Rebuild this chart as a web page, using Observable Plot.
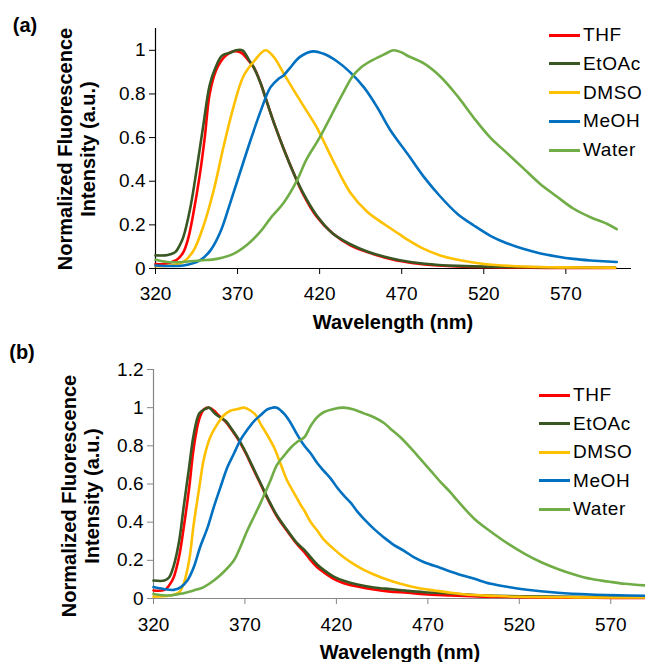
<!DOCTYPE html>
<html>
<head>
<meta charset="utf-8">
<script src="https://cdn.jsdelivr.net/npm/d3@7"></script>
<script src="https://cdn.jsdelivr.net/npm/@observablehq/plot@0.6"></script>
<style>
  body { margin: 0; background: #fff; font-family: "Liberation Sans", Arial, sans-serif; }
  #wrap { position: relative; width: 645px; height: 662px; overflow: hidden; background: #fff; }
  .panel { position: absolute; left: 0; }
  .lab { position: absolute; font-weight: bold; font-size: 20px; color: #000; white-space: nowrap; }
  .ytitle { position: absolute; font-weight: bold; font-size: 20px; line-height: 23px; text-align: center; transform: rotate(-90deg); white-space: nowrap; }
  .legitem { position: absolute; height: 24px; display: flex; align-items: center; font-size: 19px; letter-spacing: 0.6px; white-space: nowrap; }
  .legitem .sw { width: 31px; height: 3px; margin-right: 3px; }
</style>
</head>
<body>
<div id="wrap"></div>
<script>
// ---------- series names & colours ----------
const seriesNames = ["THF", "EtOAc", "DMSO", "MeOH", "Water"];
const seriesColors = ["#FF0000", "#385723", "#FFC000", "#0070C0", "#70AD47"];

// ---------- axis ticks ----------
const xTicks = [320, 370, 420, 470, 520, 570];
const yTicksA = [0, 0.2, 0.4, 0.6, 0.8, 1];
const yTicksB = [0, 0.2, 0.4, 0.6, 0.8, 1, 1.2];

// ---------- panel (a) data ----------
const nmThfA = [320,325,330,333,337,340,343,347,350,353,357,362,367,372,376,380,384,388,393,398,404,410,418,428,439,449,459,469,484,504,530,560,600];
const thfA   = [0.02,0.02,0.03,0.04,0.075,0.14,0.25,0.43,0.60,0.80,0.91,0.97,0.995,0.99,0.96,0.92,0.85,0.76,0.65,0.55,0.44,0.34,0.24,0.16,0.105,0.075,0.052,0.034,0.018,0.009,0.005,0.003,0.002];

const nmEtoA = [320,326,329,332,335,337,341,345,349,353,356.5,360.5,366,369,373,377,380,384,388,393,398,404,410,418,428,439,449,459,469,484,504,530,560,600];
const etoA   = [0.06,0.06,0.065,0.075,0.11,0.145,0.27,0.45,0.65,0.84,0.92,0.975,0.99,1.0,1.0,0.955,0.92,0.85,0.76,0.65,0.55,0.44,0.345,0.245,0.16,0.11,0.078,0.055,0.038,0.022,0.012,0.007,0.005,0.004];

const nmDmsoA = [320,330,337,343,349,355.5,361.5,367.5,373.5,380,387,392,398,404,411,418,428.5,438.5,449,459,469,473,483.5,493.5,504,520,544,570,600];
const dmsoA   = [0.01,0.015,0.03,0.08,0.19,0.36,0.56,0.74,0.88,0.95,1.0,0.97,0.895,0.82,0.735,0.65,0.49,0.35,0.26,0.205,0.155,0.135,0.09,0.06,0.04,0.021,0.009,0.005,0.004];

const nmMeohA = [320,337,347,353.5,359.5,365.5,371.5,378,384,390,395,398,402,408,416,422,430.5,438.5,447,455,463,473.5,483.5,493.5,504,514,524,534,544,554,564.5,574.5,585,601];
const meohA   = [0.014,0.014,0.037,0.083,0.167,0.30,0.44,0.59,0.72,0.83,0.87,0.885,0.92,0.97,0.995,0.985,0.95,0.90,0.83,0.74,0.635,0.526,0.42,0.33,0.25,0.197,0.15,0.116,0.09,0.07,0.055,0.044,0.037,0.03];

const nmWaterA = [320,327,337,347,357.5,367.5,376,384,390,398,406,412,420,427,434,440,445,451,459,465,470,473.5,483.5,493.5,504,514,524,534,544,554,564.5,574.5,585,595,601];
const waterA   = [0.04,0.03,0.03,0.037,0.044,0.067,0.11,0.17,0.23,0.30,0.40,0.50,0.60,0.70,0.80,0.88,0.92,0.95,0.98,1.0,0.99,0.975,0.94,0.88,0.79,0.69,0.60,0.53,0.46,0.39,0.33,0.275,0.235,0.205,0.18];

// ---------- panel (b) data ----------
const nmThfB = [320,326,328.5,331,334,336.5,339.5,342,345,347.5,350.5,353,355.5,359.5,363,366.5,370.5,374,378.5,383,387.5,393,398.5,402.5,406,409.5,413,418.5,424,431.5,440.5,449.5,459,468,482.5,500,530,560,590];
const thfB   = [0.042,0.045,0.068,0.11,0.22,0.37,0.58,0.79,0.94,0.99,1.0,0.985,0.96,0.925,0.88,0.83,0.76,0.69,0.60,0.51,0.43,0.355,0.285,0.243,0.20,0.164,0.138,0.103,0.08,0.063,0.047,0.036,0.03,0.022,0.016,0.01,0.006,0.004,0.003];

const nmEtoB = [320,326,328.5,331,334,336.5,339.5,342,345,347.5,350.5,353,355.5,359.5,363,366.5,370.5,374,378.5,383,387.5,393,398.5,402.5,406,409.5,413,418.5,424,431.5,440.5,449.5,459,468,482.5,500,520,550,590];
const etoB   = [0.094,0.094,0.11,0.17,0.30,0.48,0.69,0.86,0.97,0.99,1.0,0.975,0.955,0.93,0.885,0.835,0.765,0.695,0.605,0.515,0.435,0.36,0.29,0.255,0.215,0.178,0.15,0.115,0.093,0.073,0.058,0.049,0.04,0.033,0.026,0.017,0.012,0.009,0.007];

const nmDmsoB = [320,329,334,336.5,339.5,342,345,347.5,351,355,358.5,362,366,369.5,373,376,378.5,382,386,389.5,393,397,400.5,402.5,406,409.5,413,418.5,424,429.5,435,440.5,448,455,464,473.5,482.5,495,505,520,550,590];
const dmsoB   = [0.01,0.016,0.033,0.077,0.20,0.39,0.58,0.73,0.845,0.915,0.96,0.984,0.993,1.0,0.985,0.96,0.915,0.86,0.79,0.705,0.62,0.55,0.49,0.46,0.40,0.356,0.31,0.26,0.216,0.18,0.15,0.126,0.098,0.077,0.056,0.042,0.03,0.018,0.014,0.009,0.006,0.005];

const nmMeohB = [320,325.5,331,335,338.5,342,345.5,349.5,353,356.5,360.5,364,367.5,371,375,378.5,382,385,387.5,391.5,395,398.5,402.5,406,409.5,413,417,420.5,424,428,431.5,435,440.5,446,451.5,457,462.5,468,477,486,495.5,504.5,514,523,541,559,590];
const meohB   = [0.06,0.05,0.045,0.06,0.094,0.164,0.27,0.37,0.48,0.58,0.69,0.76,0.83,0.88,0.93,0.96,0.99,1.0,1.0,0.967,0.92,0.86,0.80,0.76,0.71,0.67,0.627,0.58,0.54,0.50,0.455,0.417,0.365,0.32,0.28,0.25,0.215,0.19,0.16,0.13,0.103,0.077,0.06,0.047,0.03,0.021,0.014];

const nmWaterB = [320,329,336.5,342,347.5,353,358.5,364,367.5,371,375,378.5,381.5,384,387.5,391.5,395,398.5,402.5,406,409.5,413,418.5,424,429.5,435,440.5,446,449.5,455,460.5,466,471.5,477,482.5,486,495.5,504.5,514,523,532,541,550,559,568.5,577.5,590];
const waterB   = [0.024,0.016,0.028,0.042,0.06,0.094,0.14,0.20,0.27,0.35,0.43,0.50,0.565,0.62,0.70,0.75,0.79,0.82,0.845,0.905,0.95,0.976,0.993,1.0,0.99,0.97,0.95,0.92,0.89,0.845,0.79,0.73,0.67,0.61,0.555,0.515,0.417,0.35,0.286,0.234,0.19,0.155,0.126,0.103,0.089,0.077,0.068];

// ---------- build tidy tables ----------
function tidy(pairs) {
  const rows = [];
  pairs.forEach(([name, xs, ys]) => xs.forEach((x, i) => rows.push({ nm: x, v: ys[i], s: name })));
  return rows;
}
const dataA = tidy([["THF", nmThfA, thfA], ["EtOAc", nmEtoA, etoA], ["DMSO", nmDmsoA, dmsoA], ["MeOH", nmMeohA, meohA], ["Water", nmWaterA, waterA]]);
const dataB = tidy([["THF", nmThfB, thfB], ["EtOAc", nmEtoB, etoB], ["DMSO", nmDmsoB, dmsoB], ["MeOH", nmMeohB, meohB], ["Water", nmWaterB, waterB]]);

const fmtY = d => String(+d.toFixed(1));

function makePanel(opts) {
  return Plot.plot({
    width: 645,
    height: opts.height,
    marginLeft: opts.ml, marginRight: opts.mr, marginTop: opts.mt, marginBottom: opts.mb,
    style: { fontFamily: '"Liberation Sans", Arial, sans-serif', fontSize: "19px", color: "#000", background: "transparent", overflow: "visible" },
    x: { domain: opts.xDomain },
    y: { domain: opts.yDomain },
    color: { domain: seriesNames, range: seriesColors },
    marks: [
      Plot.axisX({ ticks: xTicks, tickSize: 6, tickPadding: opts.xPad, stroke: opts.axisColor, label: null, tickFormat: d => String(d), fontSize: 19 }),
      Plot.axisY({ ticks: opts.yTicks, tickSize: 6, tickPadding: 4, stroke: opts.axisColor, label: null, tickFormat: fmtY, fontSize: 19 }),
      Plot.ruleY([0], { stroke: opts.axisColor, strokeWidth: 1.2 }),
      Plot.ruleX([320], { stroke: opts.axisColor, strokeWidth: 1.2 }),
      Plot.line(opts.data, { x: "nm", y: "v", z: "s", stroke: "s", strokeWidth: 2.6, curve: "catmull-rom" })
    ]
  });
}

const wrap = document.getElementById("wrap");

const pA = makePanel({ height: 330, ml: 155, mr: 14, mt: 28, mb: 62, xDomain: [320, 610], yDomain: [0, 1.1], yTicks: yTicksA, data: dataA, axisColor: "#000", xPad: 12 });
pA.classList.add("panel"); pA.style.top = "0px";
wrap.appendChild(pA);

const pB = makePanel({ height: 332, ml: 153, mr: 0, mt: 39, mb: 64, xDomain: [320, 589], yDomain: [0, 1.2], yTicks: yTicksB, data: dataB, axisColor: "#868686", xPad: 13 });
pB.classList.add("panel"); pB.style.top = "330px";
wrap.appendChild(pB);

// ---------- text overlays ----------
function addLabel(text, cx, cy, w) {
  const d = document.createElement("div");
  d.className = "lab";
  d.textContent = text;
  d.style.width = w + "px";
  d.style.textAlign = "center";
  d.style.left = (cx - w / 2) + "px";
  d.style.top = (cy - 11) + "px";
  d.style.lineHeight = "22px";
  wrap.appendChild(d);
}
function addYTitle(lines, cx, cy) {
  const w = 320, h = 46;
  const d = document.createElement("div");
  d.className = "ytitle";
  d.innerHTML = lines.join("<br>");
  d.style.width = w + "px"; d.style.height = h + "px";
  d.style.left = (cx - w / 2) + "px"; d.style.top = (cy - h / 2) + "px";
  wrap.appendChild(d);
}
function addLegend(left, top0, step) {
  seriesNames.forEach((name, i) => {
    const it = document.createElement("div");
    it.className = "legitem";
    it.style.left = left + "px";
    it.style.top = (top0 + i * step - 12) + "px";
    const sw = document.createElement("span");
    sw.className = "sw";
    sw.style.background = seriesColors[i];
    const tx = document.createElement("span");
    tx.textContent = name;
    it.appendChild(sw); it.appendChild(tx);
    wrap.appendChild(it);
  });
}

addLabel("(a)", 25, 25, 40);
addLabel("(b)", 22, 352, 40);
addLabel("Wavelength (nm)", 393, 322, 300);
addLabel("Wavelength (nm)", 400, 652, 300);
addYTitle(["Normalized Fluorescence", "Intensity (a.u.)"], 76.5, 149);
addYTitle(["Normalized Fluorescence", "Intensity (a.u.)"], 80.5, 496);
addLegend(549, 35, 28.8);
addLegend(539, 395, 28.5);
</script>
</body>
</html>
